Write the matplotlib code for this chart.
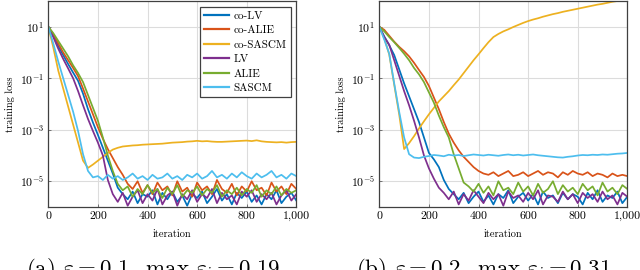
import numpy as np
import matplotlib
matplotlib.use("Agg")
import matplotlib.pyplot as plt
from matplotlib.ticker import FixedLocator, NullLocator

# iterations sampled every 20 steps (0 .. 1000)
iterations = list(range(0, 1001, 20))

methods = ["co-LV", "co-ALIE", "co-SASCM", "LV", "ALIE", "SASCM"]
colors = ["#0072BD", "#D95319", "#EDB120", "#7E2F8E", "#77AC30", "#4DBEEE"]

# log10(training loss), panel (a)
a_co_lv = [1.0, 0.65, 0.25, -0.1, -0.45, -0.78, -1.1, -1.6, -2.2, -2.72,
           -3.2, -3.7, -4.2, -4.7, -5.25, -5.5, -5.7, -5.4, -5.85, -5.5,
           -5.6, -5.35, -5.9, -5.45, -5.7, -5.4, -5.8, -5.55, -5.95, -5.5,
           -5.65, -5.4, -5.85, -5.6, -5.3, -5.75, -5.5, -5.9, -5.45, -5.65,
           -5.4, -5.8, -5.55, -5.9, -5.5, -5.7, -5.35, -5.85, -5.6, -5.45,
           -5.75]
a_co_alie = [1.0, 0.7, 0.35, 0.0, -0.3, -0.6, -0.92, -1.4, -1.9, -2.4,
             -2.9, -3.35, -3.75, -4.1, -4.45, -4.75, -5.1, -5.3, -5.0, -5.45,
             -5.15, -5.5, -5.05, -5.35, -5.2, -5.55, -5.0, -5.4, -5.25, -5.6,
             -5.05, -5.35, -5.2, -5.5, -4.95, -5.3, -5.45, -5.1, -5.55, -5.2,
             -5.4, -5.0, -5.35, -5.25, -5.55, -5.05, -5.4, -5.2, -5.5, -5.1,
             -5.3]
a_co_sascm = [1.0, 0.2, -0.7, -1.4, -2.1, -2.8, -3.5, -4.2, -4.48, -4.35,
              -4.2, -4.05, -3.9, -3.77, -3.7, -3.65, -3.63, -3.61, -3.6, -3.58,
              -3.57, -3.56, -3.55, -3.54, -3.52, -3.5, -3.49, -3.48, -3.46, -3.45,
              -3.43, -3.45, -3.44, -3.46, -3.47, -3.47, -3.46, -3.45, -3.44, -3.43,
              -3.42, -3.44, -3.41, -3.45, -3.47, -3.48, -3.49, -3.48, -3.5, -3.48,
              -3.47]
a_lv = [1.0, 0.6, 0.15, -0.25, -0.62, -1.0, -1.5, -2.05, -2.58, -3.05,
        -3.5, -4.0, -4.95, -5.5, -5.8, -5.45, -5.95, -5.6, -5.35, -5.85,
        -5.5, -5.75, -5.3, -5.9, -5.55, -5.4, -5.95, -5.5, -5.7, -5.35,
        -5.8, -5.5, -5.65, -5.3, -5.85, -5.45, -5.7, -5.55, -5.9, -5.4,
        -5.6, -5.35, -5.8, -5.5, -5.7, -5.45, -5.9, -5.55, -5.35, -5.75,
        -5.5]
a_alie = [1.0, 0.75, 0.45, 0.15, -0.15, -0.5, -0.8, -1.15, -1.65, -2.15,
          -2.65, -3.3, -4.0, -4.6, -5.1, -5.35, -5.2, -5.6, -5.3, -5.5,
          -5.15, -5.45, -5.3, -5.65, -5.25, -5.5, -5.15, -5.6, -5.35, -5.45,
          -5.2, -5.55, -5.3, -5.45, -5.15, -5.6, -5.35, -5.5, -5.25, -5.55,
          -5.3, -5.45, -5.15, -5.6, -5.35, -5.5, -5.2, -5.55, -5.3, -5.45,
          -5.35]
a_sascm = [1.0, 0.35, -0.35, -1.0, -1.65, -2.3, -3.05, -3.95, -4.6, -4.85,
           -4.8, -4.95, -4.75, -4.9, -4.8, -4.95, -4.85, -4.7, -4.9, -4.8,
           -4.95, -4.75, -4.9, -4.85, -4.7, -4.9, -4.8, -4.95, -4.75, -4.85,
           -4.7, -4.9, -4.8, -4.6, -4.85, -4.75, -4.9, -4.7, -4.85, -4.65,
           -4.8, -4.9, -4.7, -4.85, -4.75, -4.6, -4.85, -4.75, -4.9, -4.7,
           -4.8]

# log10(training loss), panel (b)
b_co_lv = [1.0, 0.62, 0.28, -0.1, -0.65, -1.2, -1.7, -2.2, -2.7, -3.3,
           -3.9, -4.15, -4.45, -4.95, -5.3, -5.5, -5.7, -5.45, -5.85, -5.6,
           -5.4, -5.8, -5.55, -5.9, -5.5, -5.65, -5.35, -5.85, -5.6, -5.45,
           -5.75, -5.5, -5.9, -5.4, -5.65, -5.55, -5.85, -5.45, -5.7, -5.5,
           -5.6, -5.9, -5.45, -5.7, -5.35, -5.8, -5.55, -5.65, -5.4, -5.85,
           -5.6]
b_co_alie = [1.0, 0.88, 0.65, 0.42, 0.22, 0.05, -0.15, -0.4, -0.68, -0.95,
             -1.3, -1.75, -2.2, -2.7, -3.15, -3.5, -3.8, -4.05, -4.25, -4.45,
             -4.6, -4.7, -4.75, -4.65, -4.8, -4.7, -4.6, -4.8, -4.75, -4.65,
             -4.8, -4.7, -4.6, -4.75, -4.65, -4.7, -4.85, -4.65, -4.75, -4.6,
             -4.7, -4.75, -4.65, -4.8, -4.7, -4.75, -4.85, -4.7, -4.8, -4.75,
             -4.8]
b_co_sascm = [1.0, 0.55, -0.08, -1.25, -2.4, -3.75, -3.52, -3.25, -2.95, -2.67,
              -2.4, -2.15, -1.9, -1.7, -1.5, -1.27, -1.05, -0.8, -0.55, -0.3,
              -0.07, 0.17, 0.4, 0.6, 0.72, 0.82, 0.9, 0.99, 1.07, 1.15,
              1.22, 1.28, 1.33, 1.39, 1.44, 1.49, 1.53, 1.58, 1.62, 1.66,
              1.7, 1.74, 1.78, 1.82, 1.86, 1.89, 1.93, 1.97, 2.0, 2.03,
              2.06]
b_lv = [1.0, 0.6, 0.3, -0.3, -0.9, -1.5, -2.05, -2.65, -3.3, -4.0,
        -4.5, -4.9, -5.25, -5.45, -5.7, -5.4, -5.9, -5.5, -5.75, -5.35,
        -5.6, -5.85, -5.45, -5.7, -5.5, -5.95, -5.4, -5.65, -5.55, -5.8,
        -5.45, -5.7, -5.35, -5.9, -5.55, -5.6, -5.8, -5.4, -5.7, -5.5,
        -5.85, -5.45, -5.65, -5.5, -5.8, -5.4, -5.7, -5.55, -5.9, -5.45,
        -5.6]
b_alie = [1.0, 0.82, 0.6, 0.4, 0.18, -0.05, -0.3, -0.6, -0.85, -1.15,
          -1.55, -1.95, -2.45, -2.9, -3.3, -3.95, -4.5, -5.05, -5.2, -5.4,
          -5.1, -5.45, -5.2, -5.55, -5.0, -5.35, -5.25, -5.5, -5.05, -5.4,
          -5.2, -5.55, -5.1, -5.45, -5.3, -5.0, -5.5, -5.15, -5.4, -5.25,
          -5.5, -5.1, -5.35, -5.2, -5.55, -5.05, -5.4, -5.25, -5.5, -5.15,
          -5.3]
b_sascm = [1.0, 0.5, -0.05, -1.2, -2.3, -3.3, -3.95, -4.08, -4.1, -4.05,
           -4.02, -3.98, -4.0, -4.03, -3.97, -4.0, -3.98, -4.02, -3.99, -3.96,
           -3.98, -4.0, -3.97, -3.99, -4.01, -3.98, -3.96, -3.99, -3.97, -4.0,
           -3.98, -3.96, -3.99, -4.01, -4.03, -4.05, -4.07, -4.08, -4.05, -4.03,
           -4.0, -3.98, -3.99, -3.97, -3.98, -3.96, -3.97, -3.95, -3.93, -3.92,
           -3.9]

panel_a = [a_co_lv, a_co_alie, a_co_sascm, a_lv, a_alie, a_sascm]
panel_b = [b_co_lv, b_co_alie, b_co_sascm, b_lv, b_alie, b_sascm]
captions = [r"(a) $\varepsilon = 0.1,\ \max\ \varepsilon_i = 0.19$",
            r"(b) $\varepsilon = 0.2,\ \max\ \varepsilon_i = 0.31$"]
xtick_vals = [0, 200, 400, 600, 800, 1000]
xtick_labels = ["0", "200", "400", "600", "800", "1,000"]
ytick_vals = [1e-5, 1e-3, 1e-1, 1e1]
ytick_labels = [r"$10^{-5}$", r"$10^{-3}$", r"$10^{-1}$", r"$10^{1}$"]

plt.rcParams["font.family"] = ["cmr10", "DejaVu Serif"]
plt.rcParams["mathtext.fontset"] = "cm"
plt.rcParams["axes.unicode_minus"] = False

fig = plt.figure(figsize=(6.4, 2.7), dpi=100)
axes = [fig.add_axes([0.0755, 0.2333, 0.3875, 0.763]),
        fig.add_axes([0.5927, 0.2333, 0.3875, 0.763])]

x = np.array(iterations)
for ax, panel in zip(axes, [panel_a, panel_b]):
    for name, color, vals in zip(methods, colors, panel):
        ax.plot(x, 10.0 ** np.array(vals), color=color, lw=1.25, label=name)
    ax.set_yscale("log")
    ax.set_xlim(0, 1000)
    ax.set_ylim(1e-6, 1e2)
    ax.xaxis.set_major_locator(FixedLocator(xtick_vals))
    ax.set_xticklabels(xtick_labels)
    ax.yaxis.set_major_locator(FixedLocator(ytick_vals))
    ax.set_yticklabels(ytick_labels)
    ax.yaxis.set_minor_locator(NullLocator())
    ax.tick_params(direction="in", length=2.5, width=0.6, color="#606060",
                   labelsize=8.5, pad=3)
    ax.grid(True, color="#dcdcdc", lw=0.8)
    ax.set_axisbelow(True)
    for s in ax.spines.values():
        s.set_color("#404040")
        s.set_linewidth(0.9)
    ax.set_xlabel("iteration", fontsize=7.5, labelpad=6)
    ax.set_ylabel("training loss", fontsize=7.5, labelpad=3)

leg = axes[0].legend(loc="upper right", fontsize=8, frameon=True, fancybox=False,
                     framealpha=1, edgecolor="#404040", borderpad=0.4,
                     labelspacing=0.42, handlelength=2.2, handletextpad=0.4,
                     borderaxespad=0.5)
leg.get_frame().set_linewidth(0.9)
for line in leg.get_lines():
    line.set_linewidth(1.6)

# sub-captions sit at the bottom edge and are partly cut, as in the source figure
fig.text(153 / 640, 1 - 256 / 270, captions[0], ha="center", va="top", fontsize=16.5)
fig.text(483 / 640, 1 - 256 / 270, captions[1], ha="center", va="top", fontsize=16.5)

fig.savefig("out.png", dpi=100)
